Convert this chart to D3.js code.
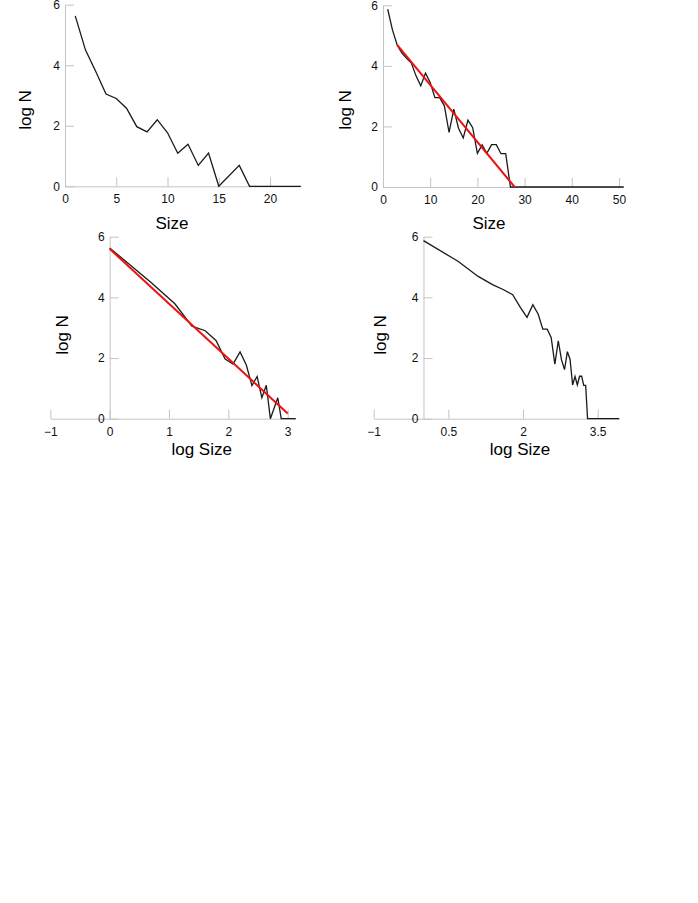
<!DOCTYPE html>
<html>
<head>
<meta charset="utf-8">
<script src="https://cdn.jsdelivr.net/npm/d3@7"></script>
<style>
  body { margin: 0; background: #fff; }
  svg { font-family: "Liberation Sans", Arial, sans-serif; }
  .axis path, .axis line { stroke: #c4c4c4; stroke-width: 1; }
  .axis text { fill: #111; font-size: 12px; }
</style>
</head>
<body>
<div id="chart"></div>
<script>
// first sample: sizes up to 23 (size 16 has no entry)
const sizesA = [1, 2, 3, 4, 5, 6, 7, 8, 9, 10, 11, 12, 13, 14, 15, 17, 18, 19, 20, 21, 22, 23];
const logNA = [5.63, 4.5, 3.79, 3.05, 2.9, 2.58, 1.97, 1.8, 2.2, 1.77, 1.09, 1.39, 0.69, 1.1, 0,
  0.69, 0, 0, 0, 0, 0, 0];

// second sample: sizes 1..51
const sizesB = d3.range(1, 52);
const logNB = [5.87, 5.19, 4.69, 4.42, 4.25, 4.09, 3.67, 3.34, 3.76, 3.45, 2.95, 2.95, 2.68, 1.8,
  2.57, 1.94, 1.62, 2.21, 1.96, 1.11, 1.39, 1.11, 1.4, 1.4, 1.1, 1.1, 0, 0, 0, 0,
  0, 0, 0, 0, 0, 0, 0, 0, 0, 0, 0, 0, 0, 0, 0, 0, 0, 0, 0, 0, 0];

// fitted lines (red)
const fitSizeB = [3, 27.9];
const fitLogNB = [4.69, 0];
const fitLogSizeA = [0, 3.0];
const fitLogNA = [5.6, 0.17];

const yTicks = [0, 2, 4, 6];
const ticks1 = [0, 5, 10, 15, 20];
const ticks2 = [0, 10, 20, 30, 40, 50];
const ticks3 = [-1, 0, 1, 2, 3];
const ticks4 = [-1, 0.5, 2, 3.5];

const svg = d3.select("#chart").append("svg")
  .attr("width", 698)
  .attr("height", 903);

function panel(p) {
  const x = d3.scaleLinear().domain(p.xDomain).range(p.xRange);
  const y = d3.scaleLinear().domain([0, 6]).range(p.yRange);
  const g = svg.append("g");

  g.append("g")
    .attr("class", "axis")
    .attr("transform", `translate(0,${y(0)})`)
    .call(d3.axisBottom(x).tickValues(p.xTicks).tickSizeInner(-9).tickSizeOuter(0).tickPadding(8.5)
      .tickFormat(d3.format("")));

  g.append("g")
    .attr("class", "axis")
    .attr("transform", `translate(${x(0)},0)`)
    .call(d3.axisLeft(y).tickValues(yTicks).tickSizeInner(-9).tickSizeOuter(0).tickPadding(5)
      .tickFormat(d3.format("")));

  const pts = p.xs.map((v, i) => [v, p.ys[i]]);
  g.append("path")
    .datum(pts)
    .attr("fill", "none")
    .attr("stroke", "#1a1a1a")
    .attr("stroke-width", 1.3)
    .attr("d", d3.line().x(d => x(d[0])).y(d => y(d[1])));

  if (p.fitX) {
    g.append("path")
      .datum(p.fitX.map((v, i) => [v, p.fitY[i]]))
      .attr("fill", "none")
      .attr("stroke", "#ee1111")
      .attr("stroke-width", 2)
      .attr("d", d3.line().x(d => x(d[0])).y(d => y(d[1])));
  }

  g.append("text")
    .attr("x", p.xLabelPos[0])
    .attr("y", p.xLabelPos[1])
    .attr("text-anchor", "middle")
    .attr("dominant-baseline", "central")
    .style("font-size", "17px")
    .text(p.xLabel);

  g.append("text")
    .attr("transform", `translate(${p.yLabelPos[0]},${p.yLabelPos[1]}) rotate(-90)`)
    .attr("text-anchor", "middle")
    .attr("dominant-baseline", "central")
    .style("font-size", "17px")
    .text("log N");
}

panel({
  xs: sizesA, ys: logNA,
  xDomain: [0, 23], xRange: [65, 300.8], yRange: [186.3, 4.7],
  xTicks: ticks1, xLabel: "Size", xLabelPos: [172, 223], yLabelPos: [25, 110]
});

panel({
  xs: sizesB, ys: logNB,
  xDomain: [0, 51], xRange: [383, 623.7], yRange: [187, 5.3],
  xTicks: ticks2, xLabel: "Size", xLabelPos: [489, 223], yLabelPos: [345, 110],
  fitX: fitSizeB, fitY: fitLogNB
});

panel({
  xs: sizesA.map(Math.log), ys: logNA,
  xDomain: [-1, Math.log(23)], xRange: [50.3, 50.3 + (1 + Math.log(23)) * 59.35], yRange: [418.7, 236.7],
  xTicks: ticks3, xLabel: "log Size", xLabelPos: [201.7, 449], yLabelPos: [62, 335],
  fitX: fitLogSizeA, fitY: fitLogNA
});

panel({
  xs: sizesB.map(Math.log), ys: logNB,
  xDomain: [-1, Math.log(51)], xRange: [373.7, 373.7 + (1 + Math.log(51)) * 49.78], yRange: [418.7, 236.7],
  xTicks: ticks4, xLabel: "log Size", xLabelPos: [520, 449], yLabelPos: [380, 335]
});
</script>
</body>
</html>
